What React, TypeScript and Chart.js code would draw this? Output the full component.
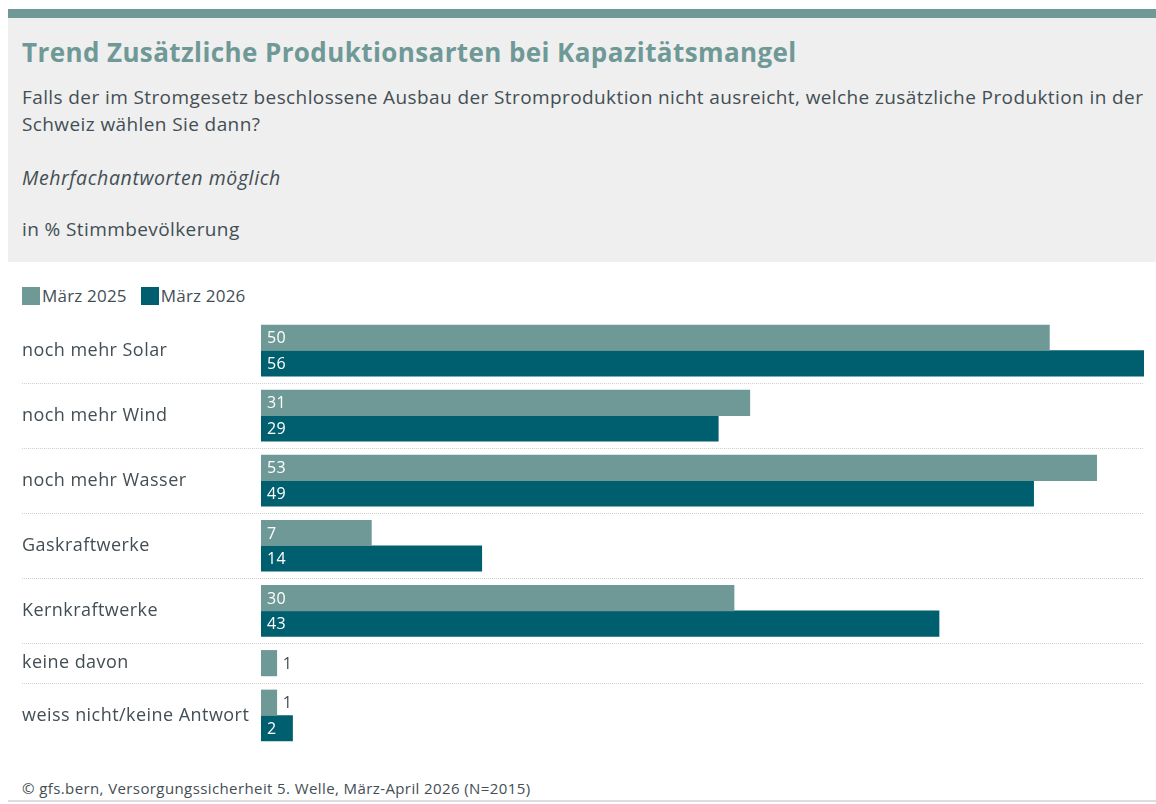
import React, { useEffect, useRef } from "react";
import { Chart, registerables } from "chart.js";

Chart.register(...registerables);

const categories = [
  "noch mehr Solar",
  "noch mehr Wind",
  "noch mehr Wasser",
  "Gaskraftwerke",
  "Kernkraftwerke",
  "keine davon",
  "weiss nicht/keine Antwort",
];
const values2025: (number | null)[] = [50, 31, 53, 7, 30, 1, 1];
const values2026: (number | null)[] = [56, 29, 49, 14, 43, null, 2];
const seriesLabels = ["März 2025", "März 2026"];
const seriesColors = ["#6f9996", "#005f6f"];

const FONT = "'Open Sans', 'Noto Sans', sans-serif";
const TEXT = "#434e54";
const GAP = 0.55;

function buildLayout() {
  const all = [values2025, values2026];
  const bars = all.map(() => [] as { x: number; y: number }[]);
  const centers: number[] = [];
  const separators: number[] = [];
  let cursor = 0;
  categories.forEach((_, i) => {
    const present = all
      .map((s, k) => ({ v: s[i], k }))
      .filter((o) => o.v !== null && o.v !== undefined);
    let pos = cursor + GAP / 2;
    present.forEach((o) => {
      bars[o.k].push({ x: o.v as number, y: pos + 0.5 });
      pos += 1;
    });
    const end = cursor + present.length + GAP;
    centers.push((cursor + end) / 2);
    if (i < categories.length - 1) separators.push(end);
    cursor = end;
  });
  return { bars, centers, separators, total: cursor };
}

export default function App() {
  const ref = useRef<HTMLCanvasElement | null>(null);

  useEffect(() => {
    if (!ref.current) return;
    const { bars, centers, separators, total } = buildLayout();
    const maxVal = Math.max(
      ...[...values2025, ...values2026].filter((v) => v !== null).map((v) => v as number)
    );

    const spacingPlugin = {
      id: "spacing",
      beforeDraw(chart: any) {
        chart.ctx.letterSpacing = "0.45px";
      },
      afterDraw(chart: any) {
        chart.ctx.letterSpacing = "0px";
      },
    };

    const separatorPlugin = {
      id: "separators",
      beforeDatasetsDraw(chart: any) {
        const { ctx, chartArea } = chart;
        const y = chart.scales.y;
        ctx.save();
        ctx.strokeStyle = "#cfcfcf";
        ctx.lineWidth = 1;
        ctx.setLineDash([1, 1]);
        separators.forEach((s) => {
          const py = Math.round(y.getPixelForValue(s)) + 0.5;
          ctx.beginPath();
          ctx.moveTo(y.left, py);
          ctx.lineTo(chartArea.right, py);
          ctx.stroke();
        });
        ctx.restore();
      },
    };

    const valuePlugin = {
      id: "values",
      afterDatasetsDraw(chart: any) {
        const { ctx } = chart;
        ctx.save();
        ctx.letterSpacing = "0.3px";
        ctx.font = `16px ${FONT}`;
        ctx.textBaseline = "middle";
        ctx.textAlign = "left";
        chart.data.datasets.forEach((ds: any, di: number) => {
          const meta = chart.getDatasetMeta(di);
          meta.data.forEach((el: any, i: number) => {
            const v = ds.data[i].x;
            if (v >= 2) {
              ctx.fillStyle = "#ffffff";
              ctx.fillText(String(v), el.base + 6, el.y + 1);
            } else {
              ctx.fillStyle = TEXT;
              ctx.fillText(String(v), el.x + 6, el.y + 1);
            }
          });
        });
        ctx.restore();
      },
    };

    const chart = new Chart(ref.current, {
      type: "bar",
      data: {
        datasets: seriesLabels.map((label, k) => ({
          label,
          data: bars[k],
          backgroundColor: seriesColors[k],
          borderWidth: 0,
          barThickness: 25.5,
          grouped: false,
        })),
      },
      options: {
        indexAxis: "y",
        animation: false,
        responsive: false,
        layout: { padding: { left: 14, right: 12, top: 8, bottom: 12 } },
        plugins: {
          legend: { display: false },
          tooltip: { enabled: false },
        },
        scales: {
          x: {
            type: "linear",
            min: 0,
            max: maxVal,
            display: false,
            offset: false,
          },
          y: {
            type: "linear",
            reverse: true,
            offset: false,
            min: 0,
            max: total,
            grid: { display: false, offset: false },
            border: { display: false },
            afterBuildTicks: (scale: any) => {
              scale.ticks = centers.map((v) => ({ value: v }));
            },
            afterFit: (scale: any) => {
              scale.width = 239;
              scale.paddingTop = 0;
              scale.paddingBottom = 0;
            },
            ticks: {
              autoSkip: false,
              crossAlign: "far",
              color: TEXT,
              font: { family: FONT, size: 18 },
              callback: (value: any) => {
                const idx = centers.findIndex((c) => Math.abs(c - Number(value)) < 1e-6);
                return idx >= 0 ? categories[idx] : "";
              },
            },
          },
        },
      },
      plugins: [spacingPlugin, separatorPlugin, valuePlugin],
    } as any);

    return () => chart.destroy();
  }, []);

  const abs = (top: number, extra: React.CSSProperties = {}): React.CSSProperties => ({
    position: "absolute",
    left: 14,
    top,
    whiteSpace: "nowrap",
    fontFamily: FONT,
    color: TEXT,
    ...extra,
  });

  return (
    <div
      style={{
        position: "absolute",
        left: 8,
        right: 0,
        top: 0,
        height: 804,
        overflow: "hidden",
        fontFamily: FONT,
      }}
    >
      <div style={{ position: "absolute", left: 0, right: 0, top: 9, height: 9, background: "#6f9996" }} />
      <div style={{ position: "absolute", left: 0, right: 0, top: 18, height: 244, background: "#efefef" }} />
      <div
        style={abs(35, {
          fontSize: 26,
          lineHeight: "34px",
          fontWeight: 700,
          letterSpacing: "0.4px",
          color: "#6f9996",
        })}
      >
        Trend Zusätzliche Produktionsarten bei Kapazitätsmangel
      </div>
      <div style={abs(84, { fontSize: 19, lineHeight: "27px", letterSpacing: "0.4px" })}>
        Falls der im Stromgesetz beschlossene Ausbau der Stromproduktion nicht ausreicht, welche zusätzliche Produktion in der
        <br />
        Schweiz wählen Sie dann?
      </div>
      <div style={abs(164, { fontSize: 19.5, lineHeight: "27px", fontStyle: "italic", letterSpacing: "0.6px" })}>
        Mehrfachantworten möglich
      </div>
      <div style={abs(216, { fontSize: 19, lineHeight: "27px", letterSpacing: "0.4px" })}>in % Stimmbevölkerung</div>

      <div
        style={abs(285, {
          display: "flex",
          alignItems: "center",
          fontSize: 17,
          lineHeight: "22px",
          letterSpacing: "0.2px",
        })}
      >
        {seriesLabels.map((l, k) => (
          <span key={l} style={{ display: "flex", alignItems: "center", marginRight: 14 }}>
            <span
              style={{ display: "inline-block", width: 18, height: 18, background: seriesColors[k], marginRight: 2 }}
            />
            <span>{l}</span>
          </span>
        ))}
      </div>

      <div style={{ position: "absolute", left: 0, top: 310, width: 1148, height: 450 }}>
        <canvas ref={ref} width={1148} height={450} />
      </div>

      <div style={abs(778, { fontSize: 15, lineHeight: "20px", letterSpacing: "0.4px" })}>
        © gfs.bern, Versorgungssicherheit 5. Welle, März-April 2026 (N=2015)
      </div>
      <div style={{ position: "absolute", left: 0, right: 0, top: 800, height: 2, background: "#dddddd" }} />
    </div>
  );
}
